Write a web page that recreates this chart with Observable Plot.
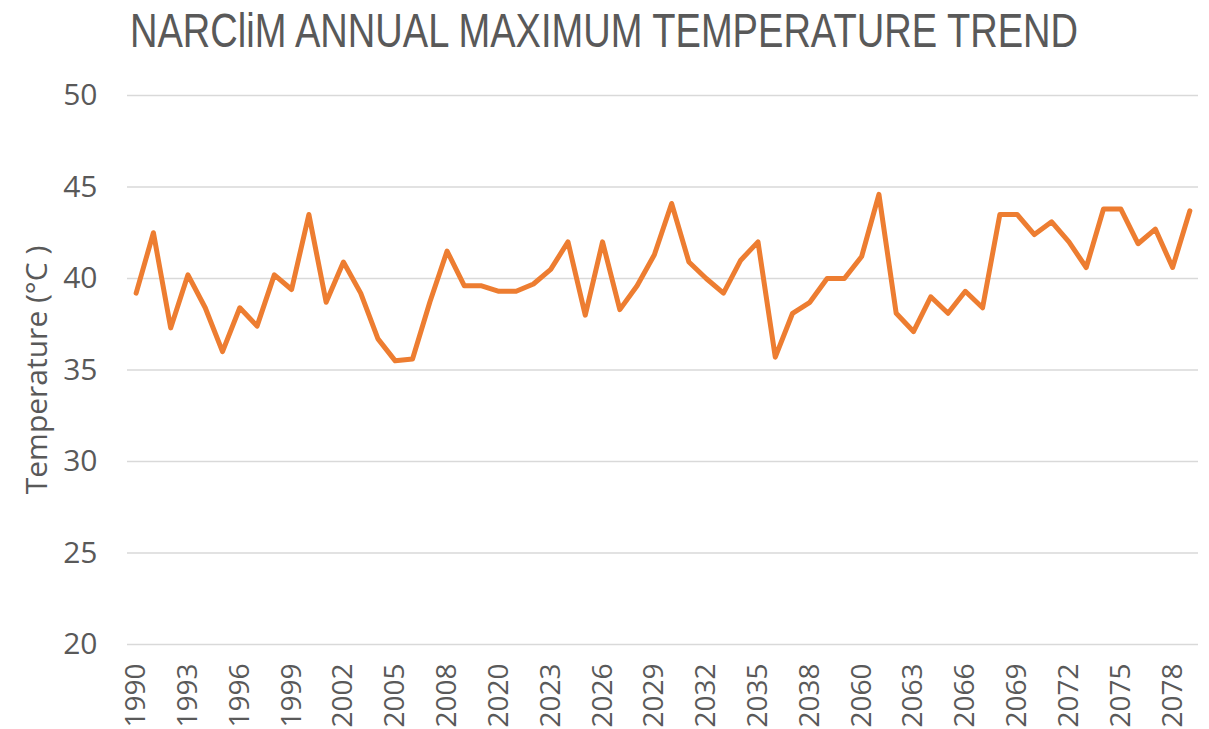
<!DOCTYPE html>
<html>
<head>
<meta charset="utf-8">
<script src="https://cdn.jsdelivr.net/npm/d3@7"></script>
<script src="https://cdn.jsdelivr.net/npm/@observablehq/plot@0.6"></script>
<style>
  html, body { margin: 0; padding: 0; background: #ffffff; }
  #wrap { width: 1209px; height: 729px; overflow: hidden; }
  #title { display: block; }
</style>
</head>
<body>
<div id="wrap">
  <svg id="title" width="1209" height="60">
    <text transform="translate(130,47) scale(1,1.3)" x="0" y="0"
          font-family="'Liberation Sans', 'Roboto', sans-serif"
          font-size="36.5" fill="#595959"
          textLength="948" lengthAdjust="spacingAndGlyphs">NARCliM ANNUAL MAXIMUM TEMPERATURE TREND</text>
  </svg>
  <div id="chart"></div>
</div>
<script>
// Categories (years shown on the x axis, in order)
const years = [
  "1990","1991","1992","1993","1994","1995","1996","1997","1998","1999","2000",
  "2001","2002","2003","2004","2005","2006","2007","2008","2009","2010",
  "2020","2021","2022","2023","2024","2025","2026","2027","2028","2029","2030",
  "2031","2032","2033","2034","2035","2036","2037","2038","2039","2040",
  "2060","2061","2062","2063","2064","2065","2066","2067","2068","2069","2070",
  "2071","2072","2073","2074","2075","2076","2077","2078","2079"
];

// Annual maximum temperature (°C)
const maxTemp = [
  39.2, 42.5, 37.3, 40.2, 38.4, 36.0, 38.4, 37.4, 40.2, 39.4, 43.5,
  38.7, 40.9, 39.2, 36.7, 35.5, 35.6, 38.7, 41.5, 39.6, 39.6,
  39.3, 39.3, 39.7, 40.5, 42.0, 38.0, 42.0, 38.3, 39.6, 41.3, 44.1,
  40.9, 40.0, 39.2, 41.0, 42.0, 35.7, 38.1, 38.7, 40.0, 40.0,
  41.2, 44.6, 38.1, 37.1, 39.0, 38.1, 39.3, 38.4, 43.5, 43.5, 42.4,
  43.1, 42.0, 40.6, 43.8, 43.8, 41.9, 42.7, 40.6, 43.7
];

// Tick labels
const xTickLabels = ["1990","1993","1996","1999","2002","2005","2008","2020","2023","2026","2029",
                     "2032","2035","2038","2060","2063","2066","2069","2072","2075","2078"];
const yTicks = [20, 25, 30, 35, 40, 45, 50];

const data = years.map((year, i) => ({year, temp: maxTemp[i]}));

const chart = Plot.plot({
  width: 1209,
  height: 669,
  marginTop: 35,
  marginBottom: 85,
  marginLeft: 127,
  marginRight: 11,
  style: {fontFamily: "'Open Sans', 'Noto Sans', sans-serif", color: "#595959", background: "#ffffff"},
  x: {type: "point", domain: years, padding: 0.5, round: false},
  y: {domain: [20, 50]},
  marks: [
    Plot.gridY(yTicks, {stroke: "#d9d9d9", strokeOpacity: 1, strokeWidth: 1.6}),
    Plot.axisY(yTicks, {
      tickSize: 0, tickPadding: 30, fontSize: 30, fill: "#595959",
      label: "Temperature (°C )", labelAnchor: "center", labelOffset: 102, labelArrow: "none"
    }),
    Plot.axisX(xTickLabels, {
      tickSize: 0, tickPadding: 19, tickRotate: -90, fontSize: 28, fill: "#595959", label: null
    }),
    Plot.line(data, {x: "year", y: "temp", stroke: "#ED7D31", strokeWidth: 5, strokeLinejoin: "round", strokeLinecap: "round"})
  ]
});
document.getElementById("chart").appendChild(chart);
</script>
</body>
</html>
